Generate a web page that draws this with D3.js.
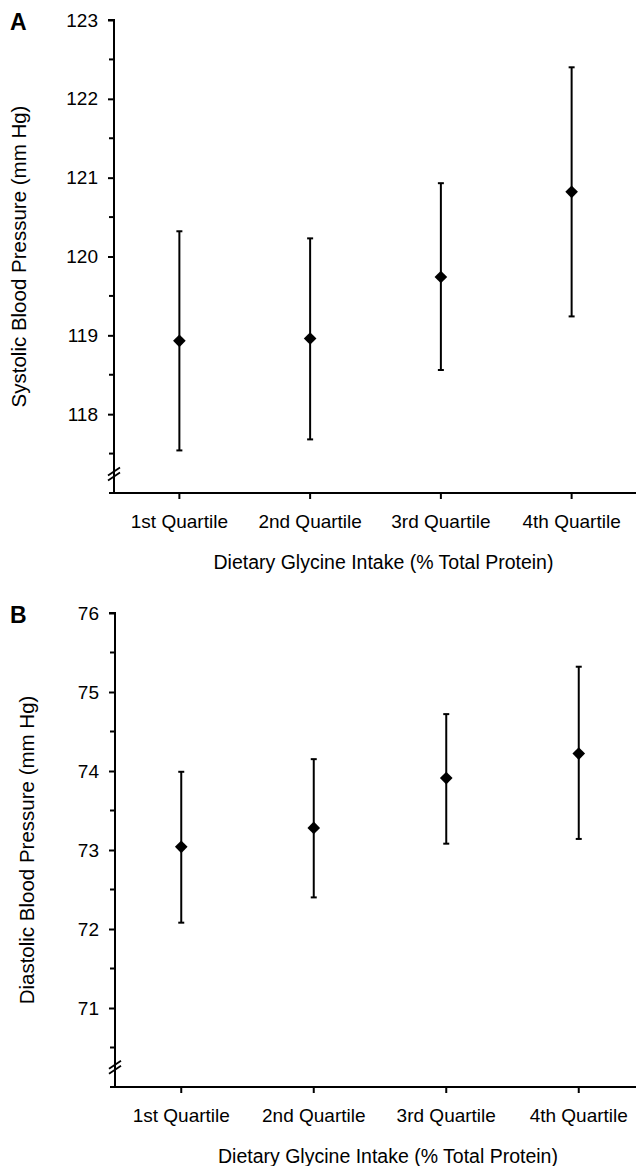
<!DOCTYPE html>
<html>
<head>
<meta charset="utf-8">
<script src="https://cdn.jsdelivr.net/npm/d3@7"></script>
<style>
  body { margin: 0; background: #fff; }
  svg { display: block; font-family: "Liberation Sans", Arial, sans-serif; }
</style>
</head>
<body>
<div id="chart"></div>
<script>
// quartiles of glycine intake
const quartiles = ["1st Quartile", "2nd Quartile", "3rd Quartile", "4th Quartile"];

// panel A: systolic blood pressure (mm Hg)
const sbpMean  = [118.93, 118.96, 119.74, 120.82];
const sbpLower = [117.54, 117.68, 118.56, 119.24];
const sbpUpper = [120.32, 120.23, 120.93, 122.40];
const sbpTicks = [118, 119, 120, 121, 122, 123];

// panel B: diastolic blood pressure (mm Hg)
const dbpMean  = [73.04, 73.28, 73.91, 74.22];
const dbpLower = [72.08, 72.40, 73.08, 73.14];
const dbpUpper = [73.99, 74.15, 74.72, 75.32];
const dbpTicks = [71, 72, 73, 74, 75, 76];

const svg = d3.select('#chart').append('svg')
    .attr('width', 636)
    .attr('height', 1166);

function drawPanel(opt) {
    const g = svg.append('g');
    const y = d3.scaleLinear().domain(opt.domain).range([opt.bottom, opt.top]);
    const x = d3.scaleBand().domain(quartiles).range([opt.left, opt.right]);
    const xc = d => x(d) + x.bandwidth() / 2;

    // minor ticks at half units
    const minor = d3.range(opt.domain[0] + 0.5, opt.domain[1], 1);

    // y axis
    const yAxis = d3.axisLeft(y).tickValues(opt.ticks).tickSize(6).tickPadding(10)
        .tickFormat(d3.format('d'));
    const ya = g.append('g').attr('transform', `translate(${opt.left},0)`).call(yAxis);
    ya.select('.domain').attr('d', `M0,${opt.bottom}V${opt.top}H-6`).attr('stroke-width', 2);
    ya.selectAll('.tick line').attr('stroke-width', 2);
    ya.selectAll('.tick text').attr('font-size', 19).attr('fill', '#000');

    g.append('g').selectAll('line').data(minor).enter().append('line')
        .attr('x1', opt.left - 5).attr('x2', opt.left)
        .attr('y1', d => y(d)).attr('y2', d => y(d))
        .attr('stroke', '#000').attr('stroke-width', 2);

    // x axis
    const xAxis = d3.axisBottom(x).tickSize(6).tickPadding(16);
    const xa = g.append('g').attr('transform', `translate(0,${opt.bottom})`).call(xAxis);
    xa.select('.domain').attr('d', `M${opt.left - 5},0H${opt.right}`).attr('stroke-width', 2);
    xa.selectAll('.tick line').attr('stroke-width', 2);
    xa.selectAll('.tick text').attr('font-size', 19).attr('fill', '#000');

    // axis break marks
    const yb = y(opt.breakAt);
    [-2.5, 2.5].forEach(off => {
        g.append('line')
            .attr('x1', opt.left - 6).attr('y1', yb + off + 4)
            .attr('x2', opt.left + 6).attr('y2', yb + off - 4)
            .attr('stroke', '#000').attr('stroke-width', 1.8);
    });

    // error bars
    const bars = g.append('g').selectAll('g').data(quartiles).enter().append('g');
    bars.append('line')
        .attr('x1', xc).attr('x2', xc)
        .attr('y1', (d, i) => y(opt.lower[i]))
        .attr('y2', (d, i) => y(opt.upper[i]))
        .attr('stroke', '#000').attr('stroke-width', 2);
    ['lower', 'upper'].forEach(k => {
        bars.append('line')
            .attr('x1', d => xc(d) - 3).attr('x2', d => xc(d) + 3)
            .attr('y1', (d, i) => y(opt[k][i]))
            .attr('y2', (d, i) => y(opt[k][i]))
            .attr('stroke', '#000').attr('stroke-width', 2);
    });
    bars.append('path')
        .attr('d', d3.symbol(d3.symbolSquare, 80))
        .attr('transform', (d, i) => `translate(${xc(d)},${y(opt.mean[i])}) rotate(45)`)
        .attr('fill', '#000');

    // titles
    g.append('text')
        .attr('transform', `translate(${opt.titleX},${(opt.top + opt.bottom) / 2}) rotate(-90)`)
        .attr('text-anchor', 'middle').attr('dy', '0.35em')
        .attr('font-size', 20.5).attr('fill', '#000')
        .text(opt.yTitle);
    g.append('text')
        .attr('x', (opt.left + opt.right) / 2 + 8).attr('y', opt.bottom + 76)
        .attr('text-anchor', 'middle')
        .attr('font-size', 19.5).attr('fill', '#000')
        .text('Dietary Glycine Intake (% Total Protein)');
    g.append('text')
        .attr('x', 10).attr('y', opt.top + 10)
        .attr('font-size', 23).attr('font-weight', 'bold').attr('fill', '#000')
        .text(opt.letter);
}

drawPanel({
    letter: 'A', yTitle: 'Systolic Blood Pressure (mm Hg)',
    domain: [117, 123], ticks: sbpTicks, breakAt: 117.24,
    mean: sbpMean, lower: sbpLower, upper: sbpUpper,
    top: 20, bottom: 493, left: 114, right: 637, titleX: 19
});

drawPanel({
    letter: 'B', yTitle: 'Diastolic Blood Pressure (mm Hg)',
    domain: [70, 76], ticks: dbpTicks, breakAt: 70.25,
    mean: dbpMean, lower: dbpLower, upper: dbpUpper,
    top: 613, bottom: 1087, left: 115, right: 645, titleX: 27
});
</script>
</body>
</html>
